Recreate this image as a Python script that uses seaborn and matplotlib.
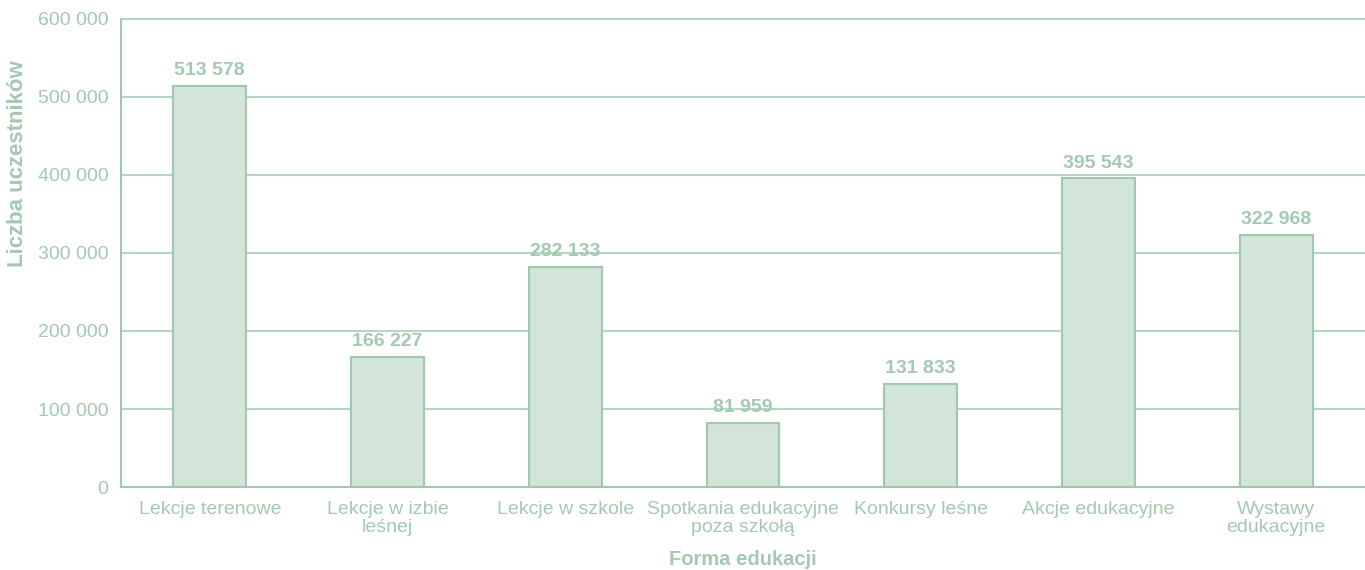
import numpy as np
import matplotlib.pyplot as plt
import seaborn as sns

# === Dane
categories = ["Lekcje terenowe", "Lekcje w izbie\nleśnej", "Lekcje w szkole",
              "Spotkania edukacyjne\npoza szkołą", "Konkursy leśne",
              "Akcje edukacyjne", "Wystawy\nedukacyjne"]
values = [513578, 166227, 282133, 81959, 131833, 395543, 322968]
y_ticks = [0, 100000, 200000, 300000, 400000, 500000, 600000]

# === Kolory
fill = "#d3e4d9"
edge = "#a0c8ad"
grid = "#b5d6c1"
text = "#a3c9b0"

sns.set_style("white")
plt.rcParams["font.family"] = ["Liberation Sans", "DejaVu Sans"]

fig = plt.figure(figsize=(13.65, 5.7), dpi=100)
ax = fig.add_axes([0.0886, 0.1456, 0.9114, 0.8211])

sns.barplot(x=categories, y=values, ax=ax, color=fill, edgecolor=edge,
            linewidth=1.5, width=0.41, saturation=1, zorder=3)

fmt = lambda v: f"{v:,}".replace(",", " ")
ax.bar_label(ax.containers[0], labels=[fmt(v) for v in values], padding=5,
             fontsize=14, fontweight="bold", color=text)

ax.set_ylim(0, 600000)
ax.set_xlim(-0.5, len(categories) - 0.5)
ax.set_yticks(y_ticks)
ax.set_yticklabels([fmt(v) for v in y_ticks], fontsize=14, color=text)
ax.yaxis.grid(True, color=grid, linewidth=1.5, zorder=0)
ax.set_axisbelow(True)

ax.set_xticks(range(len(categories)))
ax.set_xticklabels(categories, fontsize=14, color=text, linespacing=1.1)
ax.set_xticks(np.arange(-0.5, len(categories), 1), minor=True)
ax.tick_params(axis="x", which="major", length=0, pad=10)
ax.tick_params(axis="x", which="minor", length=5, color=edge, width=1.5, direction="out")
ax.tick_params(axis="y", length=5, color=edge, width=1.5, direction="out", pad=4)

ax.spines["right"].set_visible(False)
ax.spines["top"].set_color(grid)
ax.spines["top"].set_linewidth(1.5)
for s in ["left", "bottom"]:
    ax.spines[s].set_color(edge)
    ax.spines[s].set_linewidth(1.5)

ax.set_xlabel("Forma edukacji", fontsize=14.5, fontweight="bold", color=text)
ax.xaxis.set_label_coords(0.5, -0.134)
ax.set_ylabel("Liczba uczestników", fontsize=16, fontweight="bold", color=text)
ax.yaxis.set_label_coords(-0.075, 0.69)

fig.savefig("out.png", dpi=100)
